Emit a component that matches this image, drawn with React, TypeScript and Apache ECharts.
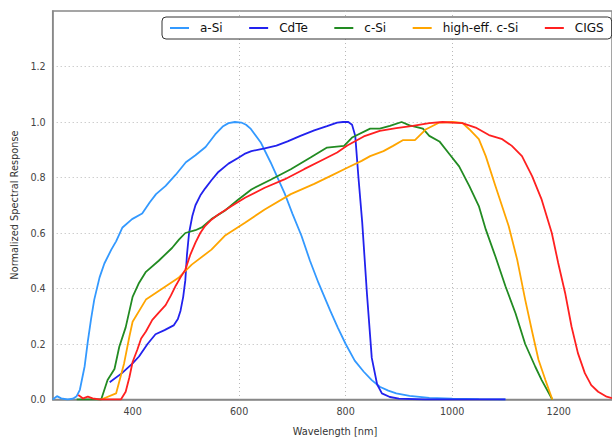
import React, { useEffect, useRef } from "react";
import * as echarts from "echarts";

const seriesNames = ["a-Si", "CdTe", "c-Si", "high-eff. c-Si", "CIGS"];
const seriesColors = ["#3399ff", "#2222ee", "#228b22", "#ffa500", "#ff2020"];

const xTicks = [400, 600, 800, 1000, 1200];
const xTitle = "Wavelength [nm]";
const yTitle = "Normalized Spectral Response";

const aSi = [
  [250, 0.0], [258, 0.012], [266, 0.004], [278, 0.0], [288, 0.003], [295, 0.012], [301, 0.035],
  [310, 0.12], [316, 0.21], [322, 0.29], [328, 0.36], [338, 0.44], [347, 0.49], [360, 0.54],
  [369, 0.57], [381, 0.62], [399, 0.65], [418, 0.67], [432, 0.71], [444, 0.74], [462, 0.77],
  [481, 0.81], [500, 0.855], [518, 0.88], [537, 0.91], [555, 0.955], [570, 0.985], [580, 0.996],
  [592, 1.0], [604, 0.998], [613, 0.99], [622, 0.975], [641, 0.925], [659, 0.855], [685, 0.745],
  [700, 0.67], [717, 0.59], [733, 0.5], [749, 0.42], [771, 0.32], [785, 0.26], [800, 0.2],
  [817, 0.14], [834, 0.1], [849, 0.07], [864, 0.046], [880, 0.032], [895, 0.022], [920, 0.013],
  [957, 0.006], [1000, 0.003], [1050, 0.001], [1100, 0.0],
];

const cdTe = [
  [357, 0.062], [380, 0.095], [400, 0.13], [412, 0.155], [428, 0.2], [443, 0.235], [460, 0.25],
  [477, 0.267], [485, 0.29], [490, 0.32], [495, 0.37], [499, 0.43], [502, 0.52], [506, 0.6],
  [512, 0.66], [518, 0.7], [527, 0.735], [536, 0.76], [548, 0.79], [561, 0.82], [580, 0.85],
  [598, 0.87], [610, 0.885], [623, 0.895], [648, 0.905], [670, 0.915], [691, 0.93], [715, 0.95],
  [741, 0.97], [765, 0.985], [784, 0.998], [795, 1.0], [805, 1.0], [812, 0.99], [818, 0.95],
  [824, 0.8], [831, 0.64], [840, 0.38], [849, 0.15], [859, 0.055], [868, 0.022], [883, 0.009],
  [900, 0.003], [950, 0.0], [1100, 0.0],
];

const cSi = [
  [295, 0.0], [341, 0.0], [353, 0.07], [366, 0.11], [375, 0.19], [387, 0.26], [400, 0.37],
  [412, 0.42], [425, 0.46], [449, 0.5], [474, 0.546], [487, 0.576], [499, 0.6], [518, 0.61],
  [530, 0.62], [548, 0.65], [573, 0.68], [598, 0.72], [623, 0.757], [660, 0.793], [697, 0.83],
  [734, 0.872], [765, 0.908], [797, 0.914], [812, 0.944], [846, 0.976], [864, 0.976], [883, 0.986],
  [905, 1.0], [920, 0.988], [945, 0.976], [957, 0.95], [976, 0.93], [995, 0.884], [1013, 0.84],
  [1032, 0.77], [1050, 0.697], [1063, 0.613], [1081, 0.516], [1100, 0.408], [1119, 0.31],
  [1137, 0.2], [1156, 0.118], [1168, 0.07], [1188, 0.0],
];

const highEffCSi = [
  [341, 0.0], [369, 0.022], [384, 0.13], [394, 0.227], [400, 0.28], [425, 0.36], [456, 0.4],
  [487, 0.44], [511, 0.486], [548, 0.54], [573, 0.59], [611, 0.637], [648, 0.685], [697, 0.74],
  [741, 0.777], [771, 0.805], [803, 0.835], [830, 0.86], [846, 0.877], [871, 0.895], [889, 0.914],
  [908, 0.935], [930, 0.935], [951, 0.974], [976, 0.998], [1000, 1.0], [1019, 0.997], [1032, 0.974],
  [1050, 0.938], [1063, 0.877], [1081, 0.77], [1106, 0.625], [1122, 0.504], [1137, 0.36],
  [1150, 0.245], [1162, 0.143], [1175, 0.07], [1188, 0.0],
];

const cigs = [
  [298, 0.016], [307, 0.004], [316, 0.01], [325, 0.004], [338, 0.0], [378, 0.0], [387, 0.028],
  [394, 0.08], [400, 0.135], [409, 0.18], [416, 0.22], [425, 0.245], [437, 0.287], [450, 0.315],
  [462, 0.34], [472, 0.375], [481, 0.41], [490, 0.44], [499, 0.468], [508, 0.52], [518, 0.565],
  [527, 0.6], [536, 0.625], [548, 0.648], [561, 0.667], [586, 0.697], [611, 0.727], [648, 0.763],
  [685, 0.793], [722, 0.83], [759, 0.866], [784, 0.89], [803, 0.915], [834, 0.948], [864, 0.968],
  [895, 0.978], [926, 0.986], [957, 0.996], [982, 1.0], [1019, 0.996], [1044, 0.98], [1069, 0.953],
  [1094, 0.938], [1112, 0.914], [1131, 0.877], [1150, 0.805], [1168, 0.72], [1187, 0.6],
  [1199, 0.492], [1212, 0.384], [1224, 0.263], [1236, 0.167], [1249, 0.095], [1261, 0.052],
  [1274, 0.028], [1290, 0.01], [1300, 0.005],
];

const seriesData = [aSi, cdTe, cSi, highEffCSi, cigs];

export default function App() {
  const ref = useRef<HTMLDivElement>(null);
  useEffect(() => {
    if (!ref.current) return;
    const chart = echarts.init(ref.current, null, { renderer: "svg" });
    const font = "DejaVu Sans";
    chart.setOption({
      animation: false,
      backgroundColor: "#ffffff",
      grid: {
        left: 52.7,
        top: 11,
        right: -6,
        bottom: 37.5,
        show: true,
        borderColor: "#888888",
        borderWidth: 1.5,
        backgroundColor: "transparent",
      },
      legend: {
        data: seriesNames,
        left: 162,
        top: 17,
        orient: "horizontal",
        icon: "rect",
        itemWidth: 19,
        itemHeight: 2,
        itemGap: 26.5,
        padding: [5, 8, 5, 8],
        backgroundColor: "#ffffff",
        borderColor: "#333333",
        borderWidth: 1,
        borderRadius: 4,
        textStyle: {
          fontFamily: font,
          fontSize: 12,
          color: "#111111",
          lineHeight: 12,
          padding: [0, 0, 0, 6],
        },
      },
      xAxis: {
        type: "value",
        min: 250,
        max: 1300,
        axisLine: { show: true, lineStyle: { color: "#888888", width: 1.5 } },
        axisTick: { show: false, customValues: xTicks },
        axisLabel: {
          customValues: xTicks,
          fontFamily: font,
          fontSize: 9.6,
          color: "#444444",
          margin: 7,
          formatter: (v: number) => String(v),
        },
        splitLine: {
          show: true,
          showMinLine: false,
          showMaxLine: false,
          lineStyle: { color: "#b8b8b8", width: 1, type: [1, 3] },
        },
      },
      yAxis: {
        type: "value",
        min: 0,
        max: 1.4,
        interval: 0.2,
        axisLine: { show: true, lineStyle: { color: "#888888", width: 1.5 } },
        axisTick: { show: false },
        axisLabel: {
          fontFamily: font,
          fontSize: 9.6,
          color: "#444444",
          margin: 7,
          showMaxLabel: false,
          formatter: (v: number) => v.toFixed(1),
        },
        splitLine: {
          show: true,
          showMinLine: false,
          showMaxLine: false,
          lineStyle: { color: "#b8b8b8", width: 1, type: [1, 3] },
        },
      },
      graphic: [
        {
          type: "text",
          x: 335,
          y: 431,
          style: {
            text: xTitle,
            fontFamily: font,
            fontSize: 9.8,
            fill: "#333333",
            textAlign: "center",
            textVerticalAlign: "middle",
          },
        },
        {
          type: "text",
          x: 14,
          y: 205,
          rotation: Math.PI / 2,
          style: {
            text: yTitle,
            fontFamily: font,
            fontSize: 9.8,
            fill: "#333333",
            textAlign: "center",
            textVerticalAlign: "middle",
          },
        },
      ],
      series: seriesNames.map((name, i) => ({
        name,
        type: "line",
        data: seriesData[i],
        showSymbol: false,
        symbol: "none",
        smooth: false,
        color: seriesColors[i],
        lineStyle: { color: seriesColors[i], width: 1.8 },
        clip: true,
      })),
    });
    return () => chart.dispose();
  }, []);
  return (
    <div
      ref={ref}
      style={{ position: "absolute", left: 0, top: 0, width: 612, height: 437 }}
    />
  );
}
